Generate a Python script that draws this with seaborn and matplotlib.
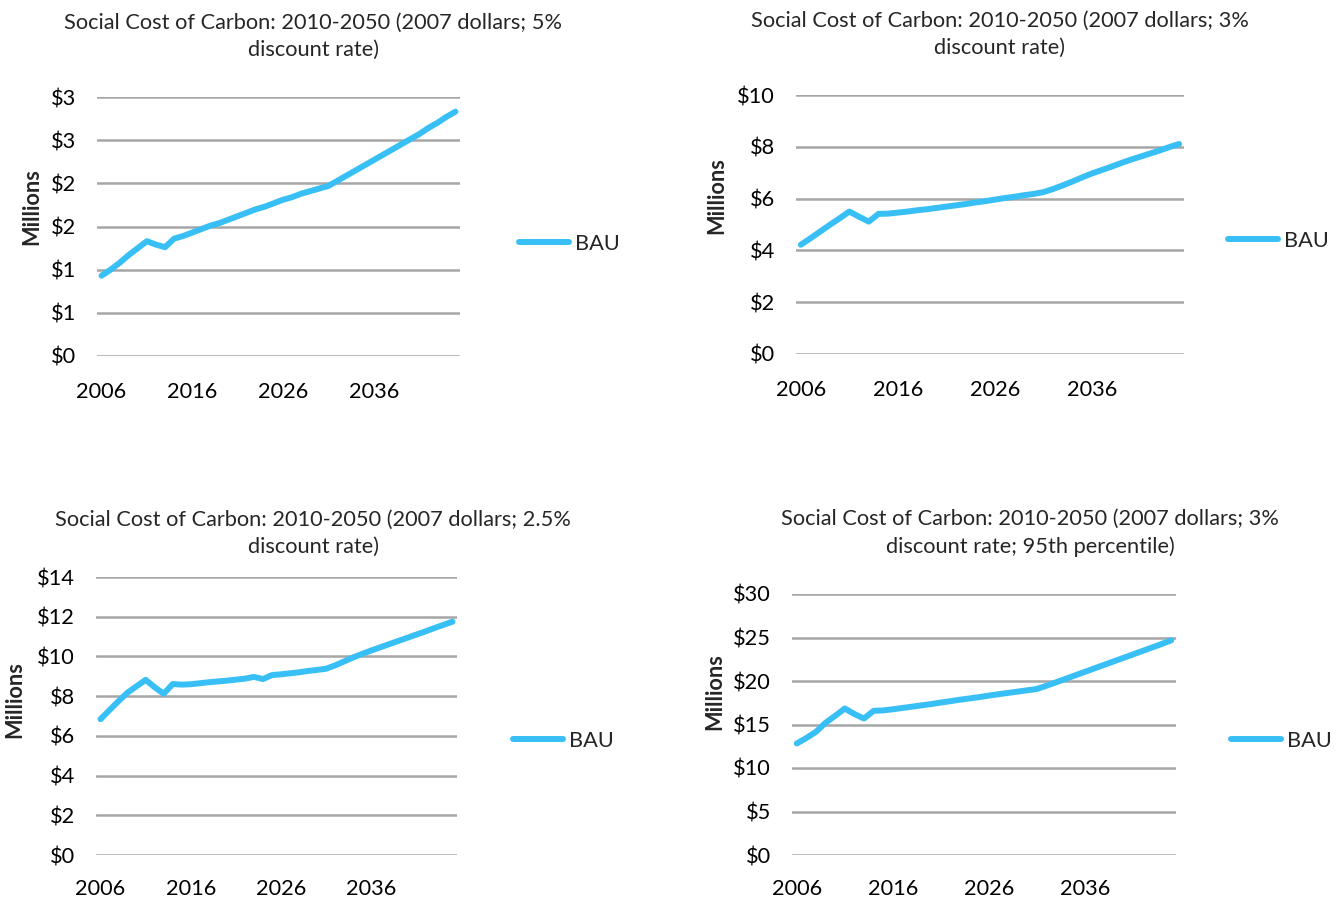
import math
import numpy as np
import pandas as pd
import matplotlib
matplotlib.use("Agg")
import matplotlib.pyplot as plt
from matplotlib.ticker import FuncFormatter
import seaborn as sns

# Years covered by each series
years = list(range(2006, 2046))

# Social cost of carbon, BAU scenario (millions of 2007 dollars)
scc_5pct = [0.93, 1.00, 1.08, 1.17, 1.25, 1.33, 1.29, 1.26, 1.36, 1.39,
            1.43, 1.47, 1.51, 1.54, 1.58, 1.62, 1.66, 1.70, 1.73, 1.77,
            1.81, 1.84, 1.88, 1.91, 1.94, 1.97, 2.03, 2.09, 2.15, 2.21,
            2.27, 2.33, 2.39, 2.45, 2.51, 2.57, 2.64, 2.70, 2.77, 2.83]

scc_3pct = [4.22, 4.47, 4.73, 4.99, 5.24, 5.50, 5.30, 5.11, 5.41, 5.42,
            5.46, 5.50, 5.55, 5.59, 5.64, 5.69, 5.74, 5.79, 5.85, 5.90,
            5.96, 6.02, 6.07, 6.13, 6.18, 6.25, 6.37, 6.51, 6.66, 6.82,
            6.97, 7.10, 7.23, 7.37, 7.50, 7.62, 7.74, 7.86, 7.99, 8.11]

scc_25pct = [6.84, 7.30, 7.75, 8.18, 8.50, 8.82, 8.45, 8.12, 8.61, 8.58,
             8.60, 8.65, 8.70, 8.74, 8.78, 8.83, 8.88, 8.97, 8.86, 9.06,
             9.10, 9.15, 9.20, 9.27, 9.32, 9.38, 9.55, 9.75, 9.95, 10.13,
             10.30, 10.46, 10.62, 10.78, 10.94, 11.10, 11.26, 11.43, 11.59, 11.75]

scc_3pct_p95 = [12.82, 13.45, 14.16, 15.20, 16.00, 16.84, 16.20, 15.69, 16.57, 16.62,
                16.75, 16.90, 17.05, 17.20, 17.35, 17.52, 17.68, 17.85, 18.00, 18.15,
                18.32, 18.48, 18.63, 18.78, 18.93, 19.08, 19.45, 19.85, 20.25, 20.65,
                21.05, 21.45, 21.85, 22.25, 22.65, 23.05, 23.45, 23.85, 24.25, 24.68]

titles = [
    "Social Cost of Carbon: 2010-2050 (2007 dollars; 5%\ndiscount rate)",
    "Social Cost of Carbon: 2010-2050 (2007 dollars; 3%\ndiscount rate)",
    "Social Cost of Carbon: 2010-2050 (2007 dollars; 2.5%\ndiscount rate)",
    "Social Cost of Carbon: 2010-2050 (2007 dollars; 3%\ndiscount rate; 95th percentile)",
]
series_name = "BAU"
y_label = "Millions"
x_ticks = [2006, 2016, 2026, 2036]
y_ticks = [
    [0, 0.5, 1.0, 1.5, 2.0, 2.5, 3.0],
    [0, 2, 4, 6, 8, 10],
    [0, 2, 4, 6, 8, 10, 12, 14],
    [0, 5, 10, 15, 20, 25, 30],
]
all_series = [scc_5pct, scc_3pct, scc_25pct, scc_3pct_p95]

sns.set_style("white")
plt.rcParams["font.family"] = ["Lato", "DejaVu Sans"]

W, H = 1336, 899
fig = plt.figure(figsize=(W / 100, H / 100), dpi=100)
fig.patch.set_facecolor("white")

def px_axes(l, t, r, b):
    return fig.add_axes([l / W, 1 - b / H, (r - l) / W, (b - t) / H])

# Layout in pixels: axes box, title centre, y-label position, legend anchor, x-label pad
layout = [
    dict(box=(97, 97, 460, 356), title=(313, 36), ylab=(32, 207), leg=(519, 244), xpad=19),
    dict(box=(796, 95, 1184, 354), title=(1000, 34), ylab=(717, 196), leg=(1228, 241), xpad=19),
    dict(box=(96, 577, 457, 855), title=(313, 533), ylab=(15, 700), leg=(513, 741), xpad=17),
    dict(box=(792, 594, 1176, 855), title=(1030, 533), ylab=(715, 692), leg=(1231, 741), xpad=17),
]

line_color = "#38C0F6"
grid_color = "#A6A6A6"
fs = 15.7

def dollar_fmt(v, pos):
    # round half up, as spreadsheet currency formats do
    return "$" + str(int(math.floor(v + 0.5 + 1e-9)))

for vals, title, yt, lay in zip(all_series, titles, y_ticks, layout):
    ax = px_axes(*lay["box"])
    df = pd.DataFrame({"year": years, "value": vals, "series": series_name})
    sns.lineplot(data=df, x="year", y="value", ax=ax, color=line_color,
                 linewidth=4.3, label=series_name, solid_capstyle="round",
                 solid_joinstyle="round", legend=False)
    ax.set_xlim(2005.5, 2045.5)
    ax.set_ylim(yt[0], yt[-1])
    ax.set_yticks(yt)
    ax.set_xticks(x_ticks)
    ax.set_xticklabels([str(t) for t in x_ticks])
    ax.yaxis.set_major_formatter(FuncFormatter(dollar_fmt))
    ax.grid(axis="y", color=grid_color, linewidth=1.8)
    ax.grid(axis="x", visible=False)
    ax.set_axisbelow(True)
    for s in ax.spines.values():
        s.set_visible(False)
    ax.tick_params(axis="y", length=0, pad=15, labelsize=fs, colors="#000000")
    ax.tick_params(axis="x", length=0, pad=lay["xpad"], labelsize=fs, colors="#000000")
    ax.set_xlabel("")
    ax.set_ylabel("")
    for ln in ax.get_lines():
        ln.set_clip_on(False)

    tx, ty = lay["title"]
    fig.text(tx / W, 1 - ty / H, title, ha="center", va="center",
             multialignment="center", fontsize=fs, linespacing=1.45)
    lx, ly = lay["ylab"]
    fig.text(lx / W, 1 - ly / H, y_label, ha="center", va="center",
             rotation=90, fontsize=fs, fontweight="bold")
    gx, gy = lay["leg"]
    handles = [ax.get_lines()[0]]
    ax.legend(handles, [series_name], loc="center left",
              bbox_to_anchor=(gx / W, 1 - gy / H), bbox_transform=fig.transFigure,
              frameon=False, fontsize=fs, handlelength=2.3, handletextpad=0.25,
              borderpad=0, borderaxespad=0)

fig.savefig("out.png", dpi=100, facecolor="white")
